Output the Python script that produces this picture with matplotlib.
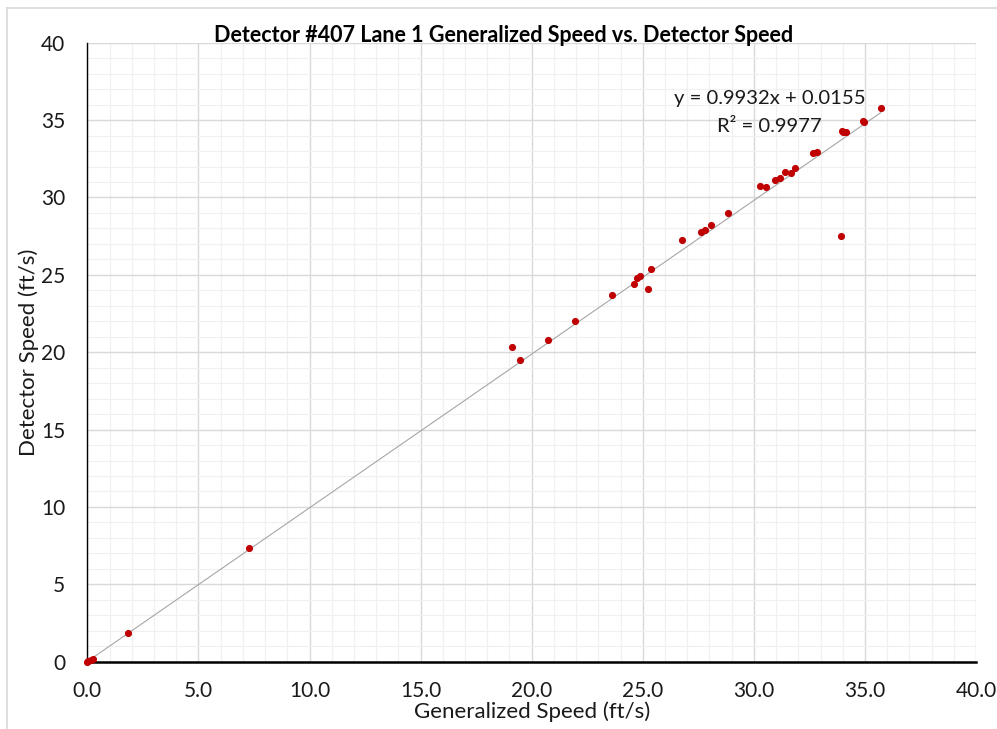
import matplotlib.pyplot as plt
from matplotlib.ticker import MultipleLocator, FormatStrFormatter
from matplotlib.lines import Line2D

# generalized speed (x) vs detector speed (y), ft/s
gen_speed = [0.0, 0.05, 0.15, 0.25, 1.83, 7.28,
             19.13, 19.46, 20.74, 21.97, 23.62, 24.59, 24.75, 24.86, 25.23, 25.36,
             26.76, 27.63, 27.82, 28.09, 28.82, 30.27, 30.56, 30.93, 31.19, 31.40,
             31.65, 31.85, 32.66, 32.86, 33.94, 33.98, 34.02, 34.15, 34.91, 34.95, 35.71]
det_speed = [0.0, 0.05, 0.10, 0.15, 1.85, 7.34,
             20.31, 19.49, 20.79, 21.99, 23.67, 24.42, 24.79, 24.92, 24.10, 25.39,
             27.22, 27.78, 27.87, 28.23, 28.97, 30.71, 30.65, 31.14, 31.29, 31.65,
             31.59, 31.91, 32.86, 32.95, 27.48, 34.30, 34.20, 34.22, 34.97, 34.90, 35.81]

slope = 0.9932
intercept = 0.0155
r2 = 0.9977

plt.rcParams['font.family'] = ['Lato', 'DejaVu Sans']

fig = plt.figure(figsize=(9.97, 7.29), dpi=100)
ax = fig.add_axes([0.0876, 0.0923, 0.8914, 0.8491])

# chart border (left/top visible only)
fig.add_artist(Line2D([7/997, 7/997], [0, 1 - 8/729], color='#d9d9d9', lw=1.2))
fig.add_artist(Line2D([7/997, 1], [1 - 8/729, 1 - 8/729], color='#d9d9d9', lw=1.2))

ax.set_xlim(0, 40)
ax.set_ylim(0, 40)
ax.xaxis.set_major_locator(MultipleLocator(5))
ax.yaxis.set_major_locator(MultipleLocator(5))
ax.xaxis.set_minor_locator(MultipleLocator(1))
ax.yaxis.set_minor_locator(MultipleLocator(1))
ax.xaxis.set_major_formatter(FormatStrFormatter('%.1f'))
ax.grid(which='major', color='#d9d9d9', lw=1.0)
ax.grid(which='minor', color='#f0f0f0', lw=0.9)
ax.set_axisbelow(True)

for s in ['top', 'right']:
    ax.spines[s].set_visible(False)
for s in ['left', 'bottom']:
    ax.spines[s].set_color('black')
ax.spines['left'].set_linewidth(1.0)
ax.spines['bottom'].set_linewidth(1.8)
ax.tick_params(which='both', length=0, labelsize=15, colors='#1a1a1a')
ax.tick_params(axis='x', pad=14)
ax.tick_params(axis='y', pad=16)

xs = [min(gen_speed), max(gen_speed)]
ax.plot(xs, [slope * v + intercept for v in xs], color='#a6a6a6', lw=0.8, zorder=2)
ax.scatter(gen_speed, det_speed, s=17, color='#c00000', zorder=3, clip_on=False)

ax.text(30.7, 36.4, 'y = 0.9932x + 0.0155', ha='center', va='center', fontsize=14.6, color='#1a1a1a')
ax.text(30.7, 34.56, 'R² = %.4f' % r2, ha='center', va='center', fontsize=14.6, color='#1a1a1a')

ax.set_xlabel('Generalized Speed (ft/s)', fontsize=16, color='#1a1a1a', labelpad=0)
ax.set_ylabel('Detector Speed (ft/s)', fontsize=16, color='#1a1a1a', labelpad=1)
fig.text(0.505, 1 - 35/729, 'Detector #407 Lane 1 Generalized Speed vs. Detector Speed',
         ha='center', va='center', fontsize=15.5, fontweight='bold', color='black')

fig.savefig('out.png', dpi=100)
